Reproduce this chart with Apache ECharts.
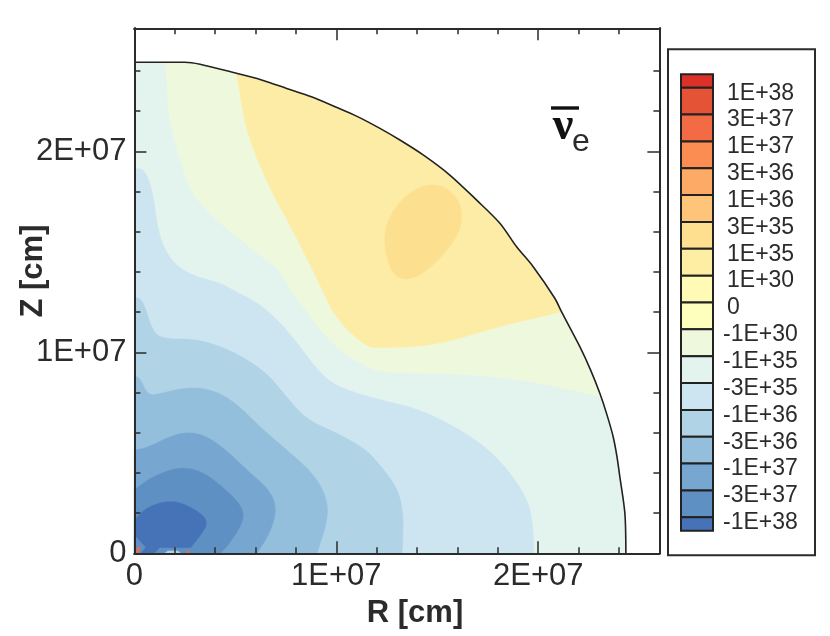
<!DOCTYPE html>
<html>
<head>
<meta charset="utf-8">
<title>Neutrino contour</title>
<script src="https://cdn.jsdelivr.net/npm/echarts@6/dist/echarts.min.js"></script>
<style>
  html, body { margin: 0; padding: 0; background: #fff; }
  #chart { width: 830px; height: 636px; }
</style>
</head>
<body>
<div id="chart"></div>
<script>
// all contour points are [R, Z] in units of 1E+07 cm
var tickLabels = ['0', '1E+07', '2E+07'];
var labelTicks = [0, 1, 2];
var majorTicks = [1, 2];
var minorTicks = [0.2, 0.4, 0.6, 0.8, 1.2, 1.4, 1.6, 1.8, 2.2, 2.4];
var legendLabels = ['1E+38', '3E+37', '1E+37', '3E+36', '1E+36', '3E+35', '1E+35', '1E+30', '0',
  '-1E+30', '-1E+35', '-3E+35', '-1E+36', '-3E+36', '-1E+37', '-3E+37', '-1E+38'];
var legendColors = ['#dc3129', '#e55337', '#f26b45', '#fc8d52', '#fdaa66', '#fec57a', '#fedf8f', '#feeea3',
  '#fffbb6', '#feffbd', '#eef8dd', '#e3f3ee', '#cde5f1', '#b0d3e6', '#94bfdc', '#77a7d0', '#5f90c3', '#4673b7'];
var legendEdges = [0, 0.5, 1.5, 2.5, 3.5, 4.5, 5.5, 6.5, 7.5, 8.5, 9.5, 10.5, 11.5, 12.5, 13.5, 14.5, 15.5, 16.5, 17];

var arcPoints = [[0, 2.443], [0.25, 2.443], [0.325, 2.433], [0.506, 2.388], [0.63, 2.355], [0.754, 2.313],
  [0.88, 2.27], [1.0, 2.219], [1.1, 2.175], [1.216, 2.114], [1.315, 2.056], [1.43, 1.982], [1.562, 1.882],
  [1.694, 1.758], [1.81, 1.642], [1.893, 1.525], [1.975, 1.426], [2.082, 1.269], [2.115, 1.202], [2.206, 1.028],
  [2.26, 0.91], [2.305, 0.796], [2.34, 0.69], [2.371, 0.58], [2.39, 0.48], [2.404, 0.381], [2.429, 0.199], [2.434, 0]];
var greenEdge = [[0.151, 2.442], [0.165, 2.321], [0.166, 2.186], [0.234, 1.923], [0.292, 1.774], [0.424, 1.642],
  [0.589, 1.509], [0.721, 1.409], [0.77, 1.31], [0.82, 1.245], [0.934, 1.096], [1.018, 1.011], [1.132, 0.937],
  [1.216, 0.899], [1.546, 0.896], [1.874, 0.872], [2.122, 0.822], [2.31, 0.78]];
var yellowEdge = [[0.506, 2.388], [0.523, 2.29], [0.556, 2.09], [0.673, 1.807], [0.785, 1.608], [0.934, 1.305],
  [0.976, 1.21], [1.052, 1.111], [1.156, 1.026], [1.216, 1.023], [1.379, 1.026], [1.548, 1.051], [1.795, 1.126],
  [2.115, 1.202]];
var blob = [[1.414, 1.83], [1.525, 1.835], [1.615, 1.755], [1.625, 1.623], [1.535, 1.485], [1.399, 1.365],
  [1.29, 1.365], [1.24, 1.494], [1.24, 1.63], [1.31, 1.75]];
var paleEdge = [[0, 1.915], [0.052, 1.91], [0.092, 1.793], [0.117, 1.593], [0.176, 1.459], [0.275, 1.385],
  [0.424, 1.345], [0.488, 1.31], [0.587, 1.26], [0.656, 1.21], [0.77, 1.096], [0.904, 0.912], [1.003, 0.827],
  [1.216, 0.763], [1.429, 0.713], [1.676, 0.579], [1.825, 0.449], [1.943, 0.28], [1.973, 0.151], [1.978, 0]];
var sky1Edge = [[0, 1.275], [0.043, 1.26], [0.087, 1.111], [0.137, 1.066], [0.325, 1.066], [0.508, 0.996],
  [0.656, 0.897], [0.736, 0.798], [0.854, 0.663], [1.003, 0.599], [1.151, 0.514], [1.216, 0.439], [1.3, 0.33],
  [1.33, 0.215], [1.33, 0.081], [1.325, 0]];
var sky2Edge = [[0, 0.884], [0.028, 0.872], [0.067, 0.783], [0.142, 0.798], [0.241, 0.822], [0.359, 0.822],
  [0.488, 0.763], [0.622, 0.628], [0.755, 0.514], [0.884, 0.399], [0.953, 0.28], [0.958, 0.166], [0.904, 0]];
var blue1Edge = [[0, 0.514], [0.062, 0.524], [0.211, 0.599], [0.325, 0.599], [0.439, 0.529], [0.557, 0.414],
  [0.671, 0.315], [0.706, 0.215], [0.671, 0.101], [0.607, 0]];
var blue2Edge = [[0, 0.315], [0.077, 0.375], [0.211, 0.429], [0.325, 0.414], [0.439, 0.33], [0.538, 0.23],
  [0.538, 0.151], [0.458, 0.031], [0.424, 0]];
var blue3Edge = [[0, 0.166], [0.062, 0.23], [0.176, 0.265], [0.275, 0.235], [0.375, 0.161], [0.31, 0.066],
  [0.275, 0.026], [0.275, 0]];
var cornerSpeck = [[0, 0.09], [0.054, 0.03], [0.03, 0], [0, 0]];
var bottomSpeck = [[0.1, 0], [0.125, 0.026], [0.35, 0.026], [0.39, 0]];
var paleSpeck = [[0.15, 0], [0.165, 0.012], [0.215, 0.012], [0.23, 0]];
var redSpeck1 = [[0.005, 0], [0.022, 0.035], [0.03, 0.025], [0.014, 0]];
var redSpeck2 = [[0.255, 0], [0.262, 0.01], [0.272, 0.01], [0.278, 0]];

// corner cutting so contour outlines draw round, ends stay where they are
function rounded(edge, closed) {
  var pts = edge;
  for (var pass = 0; pass < 3; pass++) {
    var next = closed ? [] : [pts[0]];
    var n = pts.length;
    for (var i = 0; i < (closed ? n : n - 1); i++) {
      var a = pts[i], b = pts[(i + 1) % n];
      next.push([a[0] * 0.75 + b[0] * 0.25, a[1] * 0.75 + b[1] * 0.25]);
      next.push([a[0] * 0.25 + b[0] * 0.75, a[1] * 0.25 + b[1] * 0.75]);
    }
    if (!closed) {
      next.push(pts[n - 1]);
    }
    pts = next;
  }
  return pts;
}

var roundArc = rounded(arcPoints);

// close an edge that ends on the outer boundary by following the boundary back
function capByArc(edge) {
  var from = edge[0][0], to = edge[edge.length - 1][0];
  return rounded(edge).concat(roundArc.filter(function(p) {
    return p[0] > from && p[0] < to;
  }).reverse());
}
function capByOrigin(edge) {
  return rounded(edge).concat([[0, 0]]);
}

// painted back to front
var regions = [
  {points: capByOrigin(arcPoints), color: '#e3f3ee'},
  {points: capByArc(greenEdge), color: '#eef8dd'},
  {points: capByArc(yellowEdge), color: '#fdeca5'},
  {points: rounded(blob, true), color: '#fde08f'},
  {points: capByOrigin(paleEdge), color: '#cde5f1'},
  {points: capByOrigin(sky1Edge), color: '#b0d3e6'},
  {points: capByOrigin(sky2Edge), color: '#94bfdc'},
  {points: capByOrigin(blue1Edge), color: '#77a7d0'},
  {points: capByOrigin(blue2Edge), color: '#5f90c3'},
  {points: capByOrigin(blue3Edge), color: '#4673b7'},
  {points: cornerSpeck, color: '#5f90c3'},
  {points: bottomSpeck, color: '#5f90c3'},
  {points: paleSpeck, color: '#b0d3e6'},
  {points: redSpeck1, color: '#f26b45'},
  {points: redSpeck2, color: '#f26b45'}
];

var INK = '#2b2b2b';
var FONT = '"Liberation Sans", Arial, sans-serif';

function frameAxis(position, max, major, labelled) {
  var axis = {
    type: 'value',
    position: position,
    min: 0,
    max: max,
    z: 5,
    splitLine: {show: false},
    axisLine: {show: true, onZero: false, lineStyle: {color: INK, width: 2}},
    axisTick: {
      show: true,
      inside: true,
      customValues: major ? majorTicks : minorTicks,
      length: major ? 12 : 6,
      lineStyle: {color: INK, width: 1.5}
    },
    axisLabel: {show: false}
  };
  if (labelled) {
    axis.axisLabel = {
      show: true,
      margin: 8,
      color: INK,
      fontFamily: FONT,
      fontSize: 31,
      customValues: labelTicks,
      formatter: function(v) {
        return tickLabels[v] || '';
      }
    };
  }
  return axis;
}

var chart = echarts.init(document.getElementById('chart'));
chart.setOption({
  animation: false,
  backgroundColor: '#fff',
  grid: [
    {left: 134.4, top: 28.3, width: 525, height: 525},
    {left: 681, top: 74.3, width: 32, height: 456.4}
  ],
  xAxis: [
    frameAxis('bottom', 2.6, true, true),
    frameAxis('bottom', 2.6, false),
    frameAxis('top', 2.6, true),
    frameAxis('top', 2.6, false),
    {gridIndex: 1, type: 'value', min: 0, max: 1, show: false}
  ],
  yAxis: [
    frameAxis('left', 2.612, true, true),
    frameAxis('left', 2.612, false),
    frameAxis('right', 2.612, true),
    frameAxis('right', 2.612, false),
    {gridIndex: 1, type: 'value', min: 0, max: 17, inverse: true, show: false}
  ],
  series: [
    {
      type: 'custom',
      coordinateSystem: 'cartesian2d',
      xAxisIndex: 0,
      yAxisIndex: 0,
      z: 2,
      silent: true,
      clip: false,
      data: regions.map(function(r, i) { return [i]; }),
      renderItem: function(params, api) {
        var region = regions[params.dataIndex];
        return {
          type: 'polygon',
          shape: {points: region.points.map(function(p) { return api.coord(p); })},
          style: {fill: region.color, stroke: region.color, lineWidth: 0.5}
        };
      }
    },
    {
      type: 'line',
      xAxisIndex: 0,
      yAxisIndex: 0,
      z: 3,
      silent: true,
      showSymbol: false,
      symbol: 'none',
      smooth: 0.3,
      lineStyle: {color: '#222', width: 1.6},
      data: arcPoints
    },
    {
      // legend colour cells
      type: 'custom',
      coordinateSystem: 'cartesian2d',
      xAxisIndex: 4,
      yAxisIndex: 4,
      z: 2,
      silent: true,
      data: legendColors.map(function(c, i) { return [i]; }),
      renderItem: function(params, api) {
        var i = params.dataIndex;
        var a = api.coord([0, legendEdges[i]]);
        var b = api.coord([1, legendEdges[i + 1]]);
        return {
          type: 'rect',
          shape: {x: a[0], y: a[1], width: b[0] - a[0], height: b[1] - a[1]},
          style: {fill: legendColors[i], stroke: '#222', lineWidth: 2}
        };
      }
    },
    {
      // legend labels sit just under the cell boundary they belong to
      type: 'custom',
      coordinateSystem: 'cartesian2d',
      xAxisIndex: 4,
      yAxisIndex: 4,
      z: 2,
      silent: true,
      clip: false,
      data: legendLabels.map(function(t, i) { return [i]; }),
      renderItem: function(params, api) {
        var i = params.dataIndex;
        var text = legendLabels[i];
        var p = api.coord([1, legendEdges[i + 1]]);
        return {
          type: 'text',
          style: {
            x: p[0] + (text.charAt(0) === '-' ? 10 : 14),
            y: p[1] + 5.5,
            text: text,
            fill: INK,
            font: '23px ' + FONT,
            textAlign: 'left',
            textVerticalAlign: 'middle'
          }
        };
      }
    }
  ],
  graphic: [
    {type: 'rect', shape: {x: 668, y: 49.3, width: 147, height: 506}, style: {fill: 'none', stroke: INK, lineWidth: 2}},
    {type: 'text', x: 415, y: 613, style: {text: 'R [cm]', fill: INK, font: 'bold 31px ' + FONT, textAlign: 'center', textVerticalAlign: 'middle'}},
    {type: 'text', x: 33, y: 271, rotation: Math.PI / 2, style: {text: 'Z [cm]', fill: INK, font: 'bold 31px ' + FONT, textAlign: 'center', textVerticalAlign: 'middle'}},
    {type: 'rect', shape: {x: 551, y: 106.3, width: 28, height: 3.4}, style: {fill: '#111'}},
    {type: 'text', x: 563, y: 127, style: {text: 'ν', fill: '#111', font: 'bold 46px "Liberation Serif", serif', textAlign: 'center', textVerticalAlign: 'middle'}},
    {type: 'text', x: 581, y: 142, style: {text: 'e', fill: INK, font: '32px ' + FONT, textAlign: 'center', textVerticalAlign: 'middle'}}
  ]
});
</script>
</body>
</html>
